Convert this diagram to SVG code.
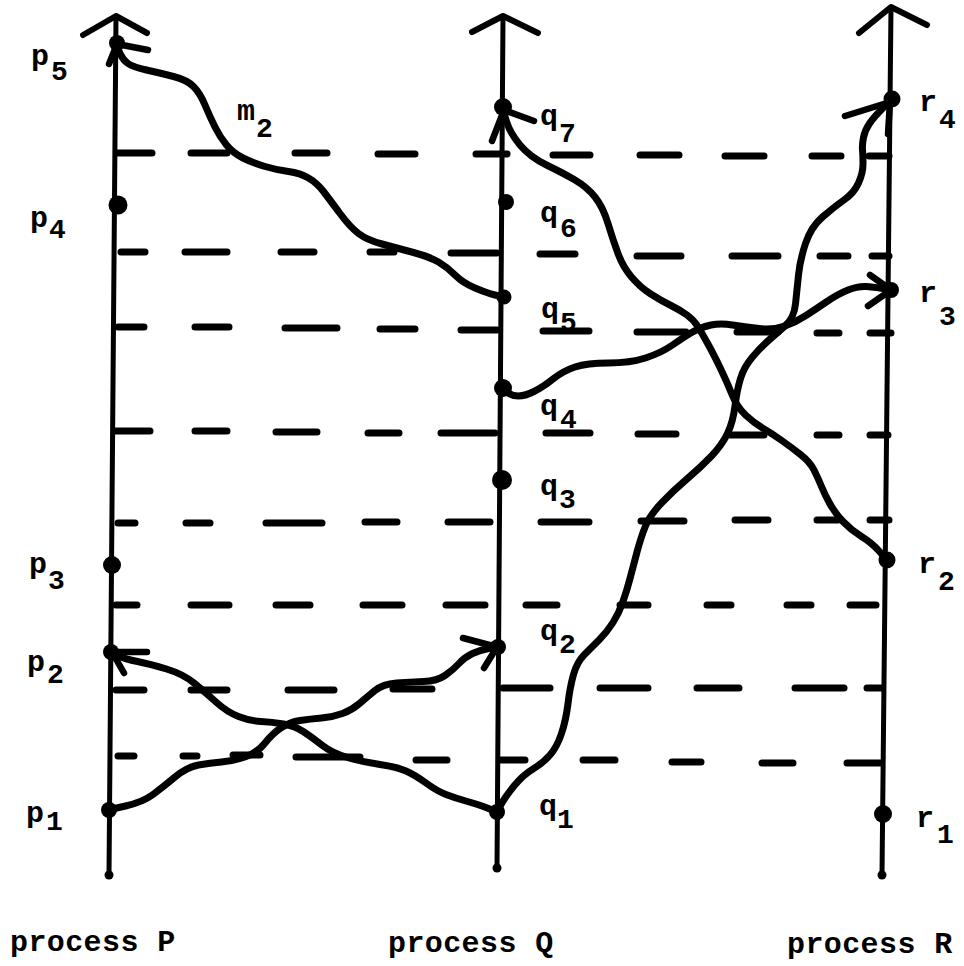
<svg xmlns="http://www.w3.org/2000/svg" width="964" height="966" viewBox="0 0 964 966">
<style>
  .proc{fill:none;stroke:#000;stroke-width:5;stroke-linecap:round;stroke-linejoin:round}
  .head{fill:none;stroke:#000;stroke-width:6;stroke-linecap:round;stroke-linejoin:round}
  .tick{fill:none;stroke:#000;stroke-width:7;stroke-linecap:round}
  .msg{fill:none;stroke:#000;stroke-width:7;stroke-linecap:round;stroke-linejoin:round}
  .ah{fill:none;stroke:#000;stroke-width:6.5;stroke-linecap:round;stroke-linejoin:round}
  .dot{fill:#000}
  .lbl{font-family:"Liberation Mono","DejaVu Sans Mono",monospace;font-weight:bold;font-size:30px;fill:#000}
  .sub{font-size:28px}
  .pl{font-family:"Liberation Mono","DejaVu Sans Mono",monospace;font-weight:bold;font-size:30px;letter-spacing:0.4px;fill:#000}
</style>
<rect width="964" height="966" fill="#fff"/>

<g id="ticks">
  <path class="tick" d="M118,153H152 M191,153H227 M295,153H327 M378,154H415 M476,154H507 M553,155H590 M640,155H679 M725,156H764 M812,156H841 M869,156H889"/>
  <path class="tick" d="M121,252H145 M185,252H227 M281,252H314 M370,252H394 M451,253H497 M540,254H575 M637,256H681 M732,256H778 M820,256H848 M872,256H889"/>
  <path class="tick" d="M118,327H144 M195,327H229 M285,328H337 M380,329H415 M461,330H497 M543,331H589 M637,332H686 M737,332H778 M817,333H839 M870,333H891"/>
  <path class="tick" d="M115,431H150 M195,431H227 M276,432H317 M368,433H399 M441,433H495 M546,433H590 M638,434H676 M730,435H764 M817,435H839 M870,435H888"/>
  <path class="tick" d="M118,523H135 M186,523H210 M266,523H322 M365,522H397 M448,522H490 M541,522H589 M641,521H684 M735,520H768 M817,520H838 M870,520H889"/>
  <path class="tick" d="M116,605H137 M191,605H229 M276,605H310 M363,605H402 M446,605H485 M526,605H557 M620,605H648 M707,605H731 M787,605H811 M850,605H876"/>
  <path class="tick" d="M116,690H144 M191,690H227 M288,690H334 M393,689H432 M503,688H550 M600,688H648 M697,688H739 M795,688H844 M867,688H882"/>
  <path class="tick" d="M118,756H134 M183,756H197 M233,755H260 M296,757H360 M416,760H447 M500,760H525 M583,760H615 M672,762H701 M762,763H793 M847,763H881"/>
</g>

<g id="process-P">
  <path class="proc" d="M116,16 L109,875"/>
  <path class="head" d="M83,35 L116,16 L147,33"/>
  <circle class="dot" cx="109" cy="875" r="4.5"/>
  <text class="pl" x="10" y="951">process P</text>
</g>
<g id="process-Q">
  <path class="proc" d="M503,16 L497,868"/>
  <path class="head" d="M472,32 L503,16 L538,33"/>
  <circle class="dot" cx="497" cy="868" r="4.5"/>
  <text class="pl" x="388" y="952">process Q</text>
</g>
<g id="process-R">
  <path class="proc" d="M891,7 L882,875"/>
  <path class="head" d="M859,33 L891,7 L927,25"/>
  <circle class="dot" cx="882" cy="875" r="4.5"/>
  <text class="pl" x="787" y="953">process R</text>
</g>

<g id="messages">
  <g id="m2">
    <path class="msg" d="M503,297 L495,295 Q487,293 475,288 Q463,283 455,275 Q447,267 438.5,262 Q430,257 413.5,252.5 Q397,248 382,244 Q367,240 358.5,233.5 Q350,227 340,213.5 Q330,200 323.5,191.5 Q317,183 308.5,178 Q300,173 288.5,171.5 Q277,170 265,166.5 Q253,163 243,158 Q233,153 226.5,145 Q220,137 215,127 Q210,117 205,105 Q200,93 193.5,86.5 Q187,80 173.5,76.5 Q160,73 146.5,70 Q133,67 128,63.5 Q123,60 120,53.5 L117,46"/>
    <path class="ah" d="M148,50 L117,44 L109,64"/>
    <text class="lbl"><tspan x="237" y="120">m</tspan><tspan class="sub" x="256" y="137">2</tspan></text>
  </g>
  <g id="msg-p1-q2">
    <path class="msg" d="M108,810 L125.5,806 Q143,802 153,794.5 Q163,787 175,777 Q187,767 198.5,765 Q210,763 221.5,762 Q233,761 245,757 Q257,753 265,743 Q273,733 281.5,727.5 Q290,722 300,720.5 Q310,719 321.5,718 Q333,717 342.5,713.5 Q352,710 359.5,703.5 Q367,697 375,690.5 Q383,684 396.5,683 Q410,682 423.5,681.5 Q437,681 445,675.5 Q453,670 459,663.5 Q465,657 472.5,653.5 Q480,650 488.5,648.5 L497,647"/>
    <path class="ah" d="M463,638 L497,647 L484,668"/>
  </g>
  <g id="msg-q1-p2">
    <path class="msg" d="M497,812 L488.5,808.5 Q480,805 467.5,801.5 Q455,798 446,794.5 Q437,791 426,783 Q415,775 406,771 Q397,767 380,764.5 Q363,762 347.5,757.5 Q332,753 322.5,745.5 Q313,738 304,732 Q295,726 283.5,724 Q272,722 261,721.5 Q250,721 238.5,716.5 Q227,712 216,702 Q205,692 194,683 Q183,674 166.5,669 Q150,664 137.5,661.5 Q125,659 118.5,656 L112,653"/>
    <path class="ah" d="M147,652 L112,652 L124,673"/>
  </g>
  <g id="msg-q1-r4">
    <path class="msg" d="M497,812 L501,804.5 Q505,797 514,786 Q523,775 533,769 Q543,763 550,755 Q557,747 561.5,733.5 Q566,720 568,703.5 Q570,687 573.5,674.5 Q577,662 584.5,654.5 Q592,647 599.5,639.5 Q607,632 613,622.5 Q619,613 623,601.5 Q627,590 630,578.5 Q633,567 637,552 Q641,537 645.5,526 Q650,515 662,502.5 Q674,490 687.5,478.5 Q701,467 711.5,456 Q722,445 727.5,433.5 Q733,422 735,406 Q737,390 740.5,378.5 Q744,367 752.5,357 Q761,347 769,340 Q777,333 785.5,325.5 Q794,318 795.5,304 Q797,290 798.5,275 Q800,260 805.5,243.5 Q811,227 822.5,217 Q834,207 844,200 Q854,193 858.5,183 Q863,173 863,164 Q863,155 862.5,150 Q862,145 863.5,137.5 Q865,130 869.5,123.5 Q874,117 882,109 L890,101"/>
    <path class="ah" d="M845,116 L890,102 L888,134"/>
  </g>
  <g id="msg-q4-r3">
    <path class="msg" d="M503,389 L507.5,392.5 Q512,396 518.5,396 Q525,396 534,391.5 Q543,387 553,379 Q563,371 575,367 Q587,363 608.5,363 Q630,363 645.5,358 Q661,353 672.5,345 Q684,337 692.5,332 Q701,327 711,325 Q721,323 732.5,325 Q744,327 759,328.5 Q774,330 785,326 Q796,322 806,315.5 Q816,309 827,301.5 Q838,294 848,290 Q858,286 866.5,286.5 Q875,287 890,290"/>
    <path class="ah" d="M870,275 L891,290 L868,306"/>
  </g>
  <g id="msg-r2-q7">
    <path class="msg" d="M887,560 L879.5,551.5 Q872,543 861.5,536.5 Q851,530 843,521.5 Q835,513 830,504 Q825,495 821.5,486.5 Q818,478 814,470 Q810,462 800.5,454.5 Q791,447 781,440 Q771,433 762.5,428 Q754,423 745.5,415 Q737,407 732,394.5 Q727,382 720.5,368.5 Q714,355 708.5,345 Q703,335 698.5,327.5 Q694,320 687,315 Q680,310 670,305 Q660,300 650,293.5 Q640,287 631.5,277 Q623,267 618,253.5 Q613,240 608,223.5 Q603,207 595,197 Q587,187 575,180 Q563,173 546.5,165 Q530,157 520,145 Q510,133 506.5,121.5 L503,110"/>
    <path class="ah" d="M534,121 L504,110 L492,141"/>
  </g>
</g>

<g id="p5"><circle class="dot" cx="117" cy="43" r="8"/><text class="lbl"><tspan x="31" y="65">p</tspan><tspan class="sub" x="51" y="80">5</tspan></text></g>
<g id="p4"><circle class="dot" cx="118" cy="205" r="9.5"/><text class="lbl"><tspan x="30" y="227">p</tspan><tspan class="sub" x="49" y="238">4</tspan></text></g>
<g id="p3"><circle class="dot" cx="112" cy="565" r="9"/><text class="lbl"><tspan x="29" y="573">p</tspan><tspan class="sub" x="48" y="589">3</tspan></text></g>
<g id="p2"><circle class="dot" cx="111" cy="652" r="8"/><text class="lbl"><tspan x="27" y="671">p</tspan><tspan class="sub" x="47" y="683">2</tspan></text></g>
<g id="p1"><circle class="dot" cx="109" cy="810" r="8"/><text class="lbl"><tspan x="26" y="822">p</tspan><tspan class="sub" x="46" y="830">1</tspan></text></g>

<g id="q7"><circle class="dot" cx="503" cy="107" r="9"/><text class="lbl"><tspan x="540" y="125">q</tspan><tspan class="sub" x="559" y="142">7</tspan></text></g>
<g id="q6"><circle class="dot" cx="506" cy="202" r="8"/><text class="lbl"><tspan x="540" y="222">q</tspan><tspan class="sub" x="560" y="237">6</tspan></text></g>
<g id="q5"><circle class="dot" cx="504" cy="297" r="7.5"/><text class="lbl"><tspan x="541" y="318">q</tspan><tspan class="sub" x="560" y="331">5</tspan></text></g>
<g id="q4"><circle class="dot" cx="503" cy="388" r="9"/><text class="lbl"><tspan x="540" y="415">q</tspan><tspan class="sub" x="560" y="428">4</tspan></text></g>
<g id="q3"><circle class="dot" cx="502" cy="480" r="10"/><text class="lbl"><tspan x="540" y="495">q</tspan><tspan class="sub" x="559" y="508">3</tspan></text></g>
<g id="q2"><circle class="dot" cx="498" cy="647" r="8"/><text class="lbl"><tspan x="540" y="640">q</tspan><tspan class="sub" x="559" y="653">2</tspan></text></g>
<g id="q1"><circle class="dot" cx="497" cy="812" r="8"/><text class="lbl"><tspan x="539" y="815">q</tspan><tspan class="sub" x="557" y="828">1</tspan></text></g>

<g id="r4"><circle class="dot" cx="892" cy="99" r="8.5"/><text class="lbl"><tspan x="919" y="111">r</tspan><tspan class="sub" x="939" y="128">4</tspan></text></g>
<g id="r3"><circle class="dot" cx="891" cy="290" r="8"/><text class="lbl"><tspan x="919" y="302">r</tspan><tspan class="sub" x="939" y="325">3</tspan></text></g>
<g id="r2"><circle class="dot" cx="887" cy="560" r="8.5"/><text class="lbl"><tspan x="918" y="573">r</tspan><tspan class="sub" x="938" y="590">2</tspan></text></g>
<g id="r1"><circle class="dot" cx="883" cy="814" r="9"/><text class="lbl"><tspan x="916" y="827">r</tspan><tspan class="sub" x="937" y="843">1</tspan></text></g>
</svg>
